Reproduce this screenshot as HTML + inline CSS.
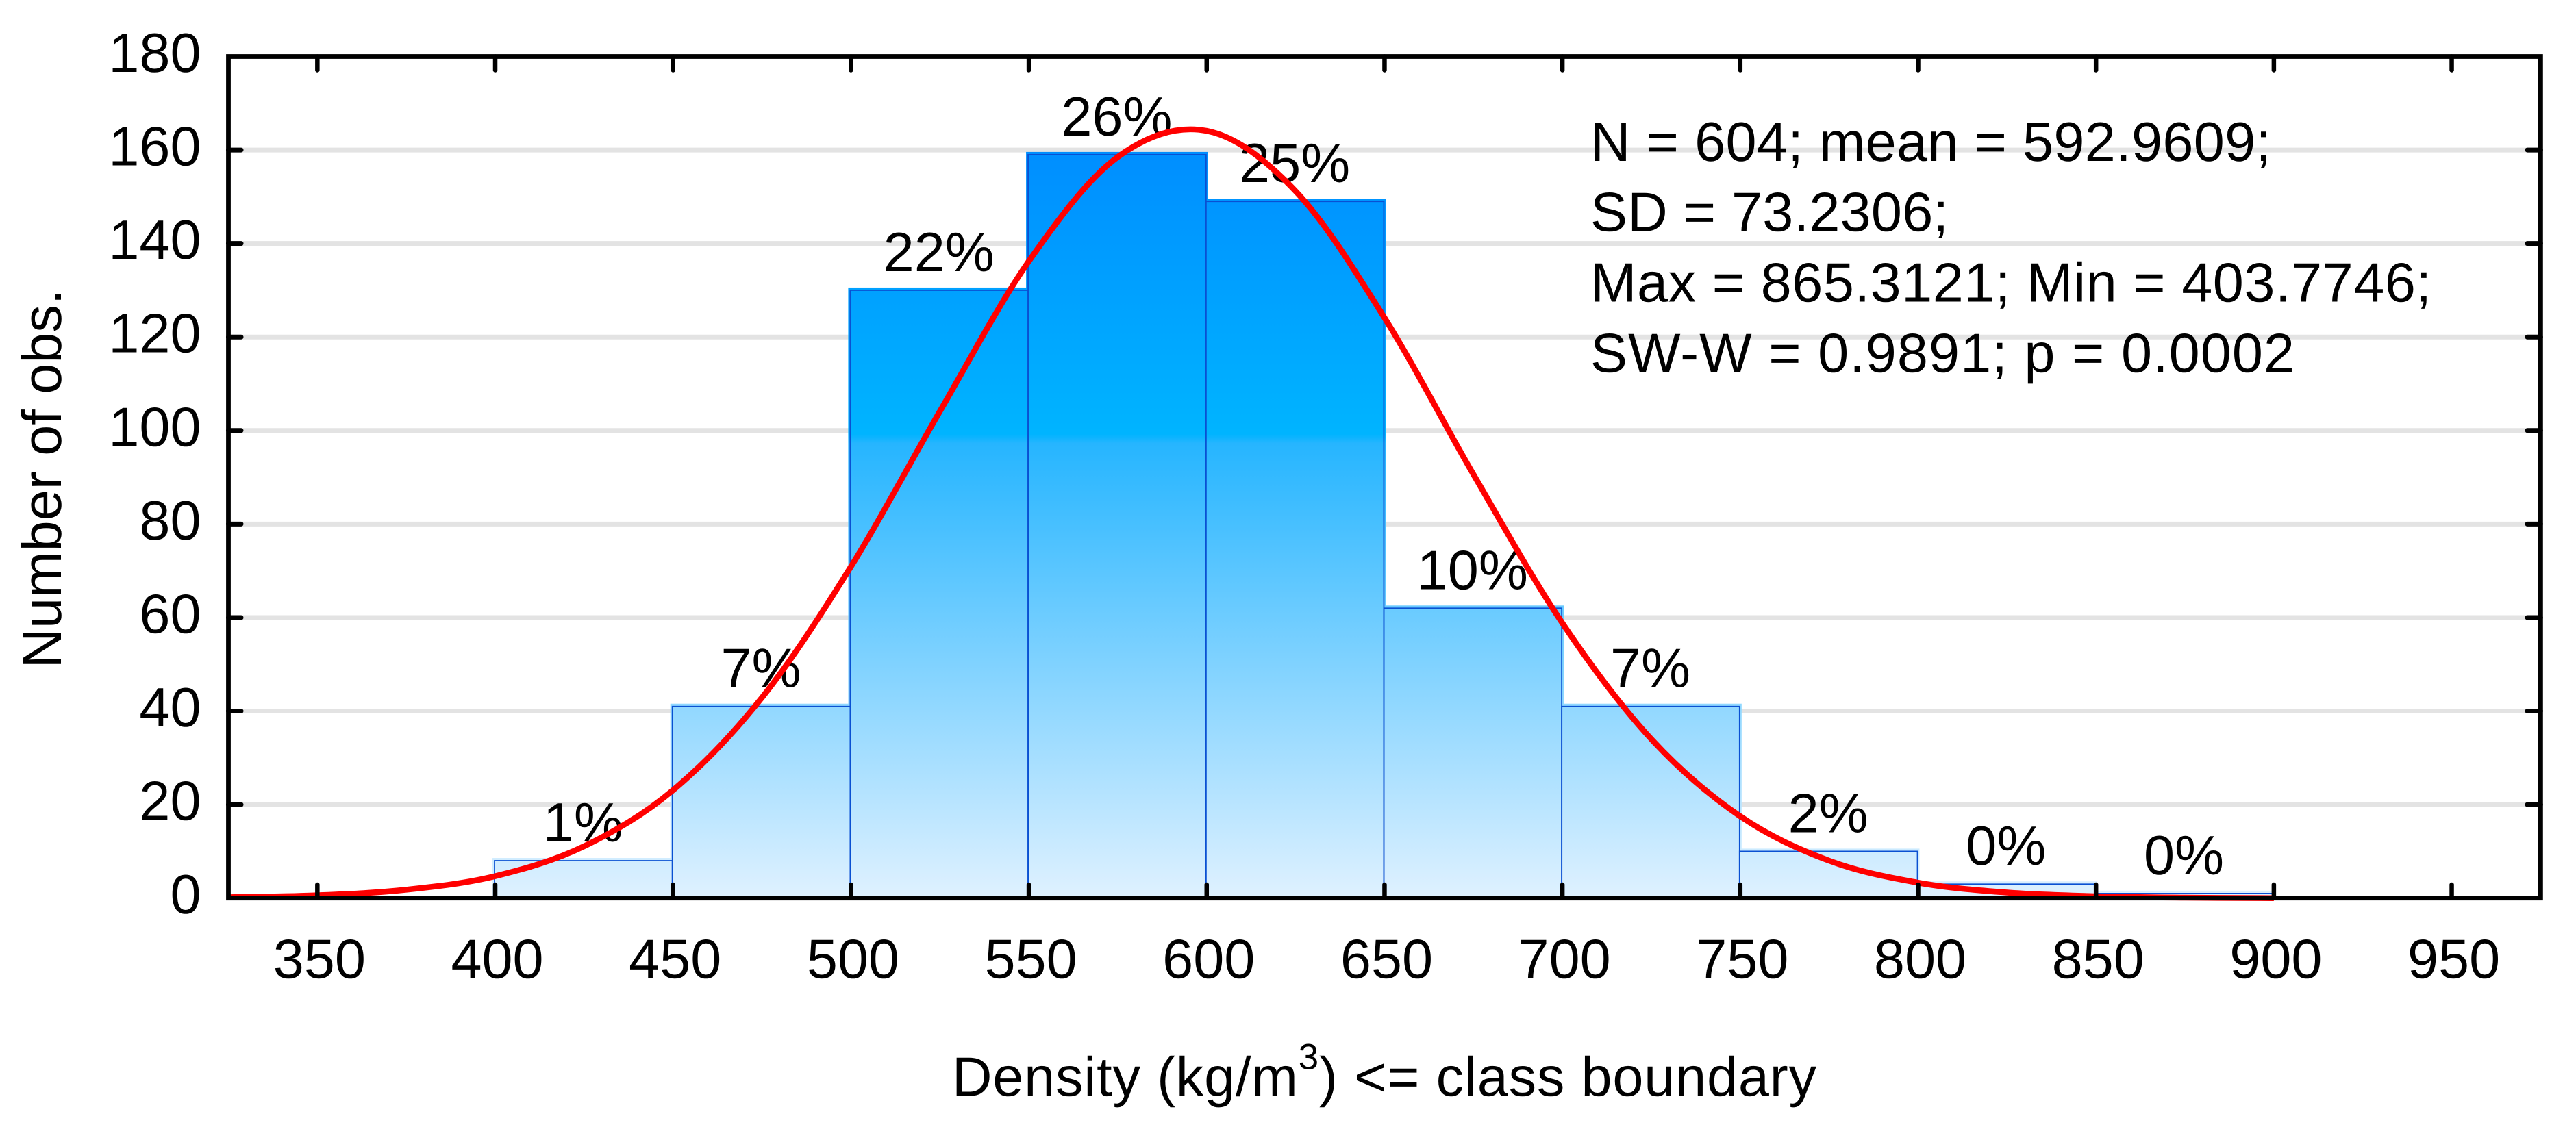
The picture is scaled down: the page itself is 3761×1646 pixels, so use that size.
<!DOCTYPE html>
<html lang="en">
<head>
<meta charset="utf-8">
<title>Density histogram</title>
<style>
html,body{margin:0;padding:0;background:#fff;}
svg{display:block;}
text{font-family:"Liberation Sans",Arial,sans-serif;font-size:81px;fill:#000;text-rendering:geometricPrecision;}
</style>
</head>
<body>
<svg id="chart" xmlns="http://www.w3.org/2000/svg" width="3761" height="1646" viewBox="0 0 3761 1646">
  <defs>
    <linearGradient id="barFill" gradientUnits="userSpaceOnUse" x1="0" y1="220" x2="0" y2="1311">
      <stop offset="0" stop-color="#008eff"/>
      <stop offset="0.3795" stop-color="#00b4ff"/>
      <stop offset="0.392" stop-color="#26b5ff"/>
      <stop offset="1" stop-color="#dff1ff"/>
    </linearGradient>
  </defs>
  <rect x="0" y="0" width="3761" height="1646" fill="#fff"/>
  <g id="grid"></g>
  <g id="bars"></g>
  <g id="pcts"></g>
  <g id="curve"></g>
  <g id="axes"></g>
  <g id="ticklabels"></g>
  <text transform="translate(89,699.5) rotate(-90)" text-anchor="middle">Number of obs.</text>
  <text x="1390" y="1600.5" textLength="1262" lengthAdjust="spacing">Density (kg/m<tspan font-size="53" dy="-39">3</tspan><tspan dy="39">) &lt;= class boundary</tspan></text>
  <g>
    <text x="2322" y="235" textLength="994" lengthAdjust="spacing">N = 604; mean = 592.9609;</text>
    <text x="2322" y="337.5" textLength="523" lengthAdjust="spacing">SD = 73.2306;</text>
    <text x="2322" y="440.5" textLength="1228" lengthAdjust="spacing">Max = 865.3121; Min = 403.7746;</text>
    <text x="2322" y="543.5" textLength="1028" lengthAdjust="spacing">SW-W = 0.9891; p = 0.0002</text>
  </g>
</svg>
<script>
// Chart data
const binStarts = [400, 450, 500, 550, 600, 650, 700, 750, 800, 850];
const binCounts = [8, 41, 130, 159, 149, 62, 41, 10, 3, 1];
const binPercents = ['1%', '7%', '22%', '26%', '25%', '10%', '7%', '2%', '0%', '0%'];
const binWidth = 50;
const xTicks = [350, 400, 450, 500, 550, 600, 650, 700, 750, 800, 850, 900, 950];
const yTicks = [0, 20, 40, 60, 80, 100, 120, 140, 160, 180];
const curveX = [325, 350, 375, 400, 425, 450, 475, 500, 525, 550, 575, 600, 625, 650, 675, 700, 725, 750, 775, 800, 825, 850, 875, 900];
const curveY = [0.2, 0.6, 1.8, 4.7, 11.1, 23.1, 42.9, 70.9, 104.1, 136.2, 158.5, 164.1, 151.2, 124.1, 90.6, 58.8, 34, 17.5, 8, 3.3, 1.2, 0.4, 0.1, 0];

const NS = 'http://www.w3.org/2000/svg';
const left = 333.5, right = 3709.4, top_ = 82.5, bottom = 1311.7;
const xMin = 325, xMax = 975, yMin = 0, yMax = 180;
function sx(v) { return left + (v - xMin) * (right - left) / (xMax - xMin); }
function sy(v) { return bottom - (v - yMin) * (bottom - top_) / (yMax - yMin); }
function make(tag, attrs, parent) {
  const el = document.createElementNS(NS, tag);
  for (const k in attrs) el.setAttribute(k, attrs[k]);
  parent.appendChild(el);
  return el;
}
const gridG = document.getElementById('grid');
const barsG = document.getElementById('bars');
const pctG = document.getElementById('pcts');
const curveG = document.getElementById('curve');
const axesG = document.getElementById('axes');
const labelG = document.getElementById('ticklabels');

// Gridlines
yTicks.forEach(function (t) {
  if (t === yMin || t === yMax) return;
  const el = make('line', { x1: left, x2: right, y1: sy(t), y2: sy(t), stroke: '#e3e3e3', 'stroke-width': 7 }, gridG);
  
  
});

// Bar fills
binStarts.forEach(function (s, i) {
  const x0 = sx(s), x1 = sx(s + binWidth), y = sy(binCounts[i]);
  const el = make('rect', { x: x0 - 4, y: y - 4, width: x1 - x0 + 6, height: bottom - y + 4, fill: 'url(#barFill)' }, barsG);
  
  
});
// Bar outlines
binStarts.forEach(function (s, i) {
  const x0 = sx(s) - 1, x1 = sx(s + binWidth) - 1, y = sy(binCounts[i]);
  const el = make('path', { d: 'M' + x0 + ' ' + bottom + 'V' + y + 'H' + x1 + 'V' + bottom, fill: 'none', stroke: '#0a50d2', 'stroke-width': 1.8 }, barsG);
  
  
});

// Percent labels above bars
binStarts.forEach(function (s, i) {
  const el = make('text', { x: sx(s + binWidth / 2) - 1.5, y: sy(binCounts[i]) - 28, 'text-anchor': 'middle' }, pctG);
  el.textContent = binPercents[i];
  
  
});

// Fitted curve (Catmull-Rom through the read points)
(function () {
  const px = curveX.map(sx), py = curveY.map(sy);
  let d = 'M' + px[0] + ' ' + py[0];
  for (let i = 0; i < px.length - 1; i++) {
    const a = Math.max(i - 1, 0), b = Math.min(i + 2, px.length - 1);
    const c1x = px[i] + (px[i + 1] - px[a]) / 6, c1y = py[i] + (py[i + 1] - py[a]) / 6;
    const c2x = px[i + 1] - (px[b] - px[i]) / 6, c2y = py[i + 1] - (py[b] - py[i]) / 6;
    d += 'C' + c1x + ' ' + c1y + ' ' + c2x + ' ' + c2y + ' ' + px[i + 1] + ' ' + py[i + 1];
  }
  const el = make('path', { d: d, fill: 'none', stroke: '#ff0000', 'stroke-width': 8.5, 'stroke-linejoin': 'round' }, curveG);
  
  
})();

// X ticks and labels
xTicks.forEach(function (t) {
  const x = sx(t);
  const tb = make('line', { x1: x, x2: x, y1: bottom, y2: 1292, stroke: '#000', 'stroke-width': 6.5, 'stroke-linecap': 'round' }, axesG);
  
  
  const tt = make('line', { x1: x, x2: x, y1: top_, y2: 102.5, stroke: '#000', 'stroke-width': 6.5, 'stroke-linecap': 'round' }, axesG);
  
  
  const lab = make('text', { x: x + 3, y: 1428.5, 'text-anchor': 'middle' }, labelG);
  lab.textContent = String(t);
  
  
});

// Y ticks and labels
yTicks.forEach(function (t) {
  const y = sy(t);
  if (t !== yMin && t !== yMax) {
    const tl = make('line', { x1: left, x2: 352, y1: y, y2: y, stroke: '#000', 'stroke-width': 7, 'stroke-linecap': 'round' }, axesG);
    
    
    const tr = make('line', { x1: right, x2: 3690, y1: y, y2: y, stroke: '#000', 'stroke-width': 7, 'stroke-linecap': 'round' }, axesG);
    
    
  }
  const lab = make('text', { x: 293.5, y: y + 22.5, 'text-anchor': 'end' }, labelG);
  lab.textContent = String(t);
  
  
});

// Plot frame
const frame = make('rect', { x: left, y: top_, width: right - left, height: bottom - top_, fill: 'none', stroke: '#000', 'stroke-width': 6.8 }, axesG);


</script>
</body>
</html>
